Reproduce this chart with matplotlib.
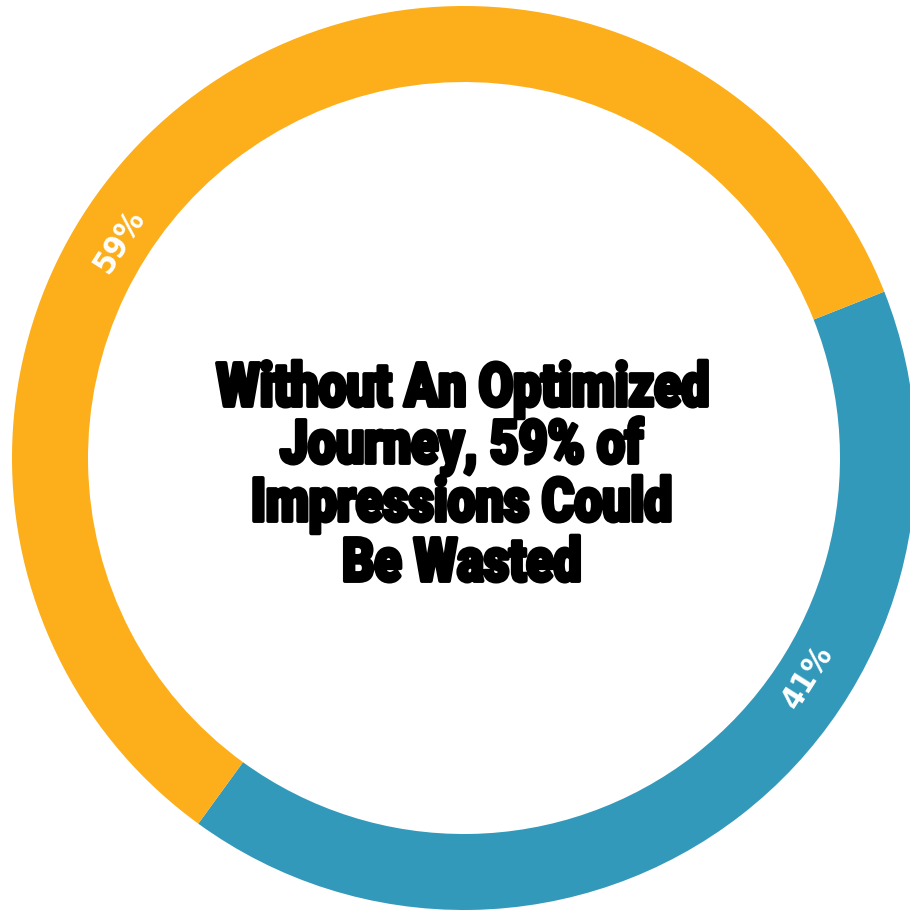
import numpy as np
import matplotlib
matplotlib.use("Agg")
import matplotlib.pyplot as plt
from matplotlib.textpath import TextPath
from matplotlib.patches import PathPatch
from matplotlib.font_manager import FontProperties
from matplotlib.transforms import Affine2D

# share of impressions
shares = [41, 59]
share_labels = ["41%", "59%"]
colors = ["#3399BA", "#FCAE1B"]
title_lines = ["Without An Optimized", "Journey, 59% of", "Impressions Could", "Be Wasted"]

PX = 452.0  # pixels per data unit (outer radius)


def main():
    fig = plt.figure(figsize=(9.1, 9.12), dpi=100)
    ax = fig.add_axes([0, 0, 1, 1])

    wedges, _ = ax.pie(shares, colors=colors, startangle=21.6, counterclock=False,
                       radius=1.0, wedgeprops=dict(width=76 / PX, linewidth=0))

    # percentage labels sit in the ring, a bit ahead of each wedge's middle
    for w, lab in zip(wedges, share_labels):
        ang = (w.theta1 + w.theta2) / 2 + 19.8
        ang = (ang + 180) % 360 - 180
        r = 407 / PX
        x, y = r * np.cos(np.radians(ang)), r * np.sin(np.radians(ang))
        rot = ang - 90
        if rot < -90:
            rot += 180
        ax.text(x, y, lab, color="white", fontsize=23, fontweight="bold",
                family="DejaVu Sans", fontstretch="condensed", rotation=rot,
                rotation_mode="anchor", ha="center", va="center")

    # heavy condensed headline built from text paths
    fp = FontProperties(family="Roboto", weight="black")
    cap = TextPath((0, 0), "H", size=1, prop=fp).get_extents().height
    w1 = TextPath((0, 0), title_lines[0], size=1, prop=fp).get_extents().width
    sy = (43 / PX) / cap
    sx = (490 / PX) / w1
    baselines = [407, 464, 522, 582]
    for line, by in zip(title_lines, baselines):
        tp = TextPath((0, 0), line, size=1, prop=fp)
        ext = tp.get_extents()
        cx = ext.x0 + ext.width / 2
        tr = Affine2D().translate(-cx, 0).scale(sx, sy).translate(-2 / PX, (459 - by) / PX)
        ax.add_patch(PathPatch(tr.transform_path(tp), facecolor="black",
                               edgecolor="black", linewidth=2.8, joinstyle="round"))

    ax.set_xlim(-464 / PX, (910 - 464) / PX)
    ax.set_ylim(-(912 - 459) / PX, 459 / PX)
    ax.set_aspect("equal")
    ax.axis("off")
    fig.savefig("out.png", dpi=100, facecolor="white")


if __name__ == "__main__":
    main()
